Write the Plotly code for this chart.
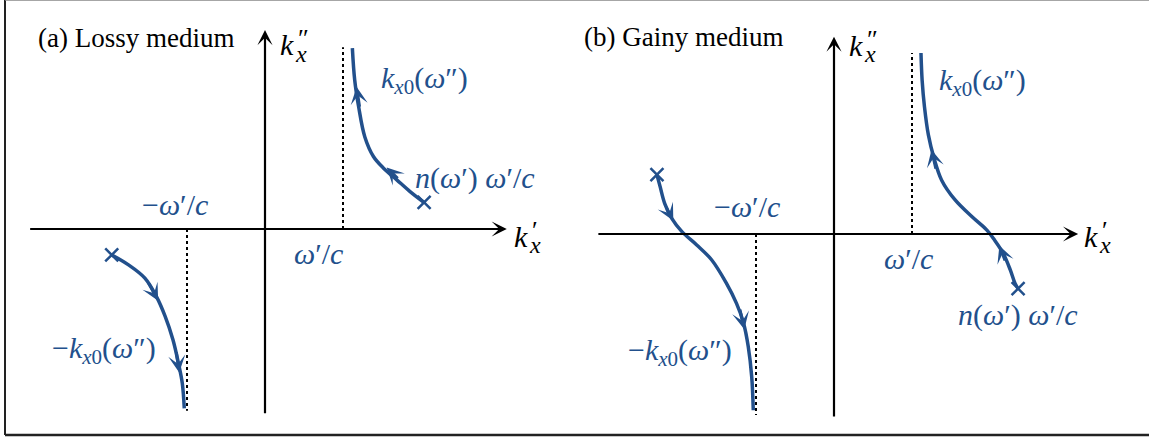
import plotly.graph_objects as go

# ---------------- data (units of omega'/c) ----------------
lossy_up_x = [2.04, 1.86, 1.69, 1.52, 1.39, 1.28, 1.20, 1.15, 1.12]
lossy_up_y = [0.34, 0.48, 0.63, 0.78, 0.93, 1.18, 1.57, 1.91, 2.32]
lossy_dn_x = [-1.965, -1.75, -1.54, -1.39, -1.28, -1.18, -1.11, -1.06, -1.035]
lossy_dn_y = [-0.333, -0.46, -0.63, -0.87, -1.12, -1.42, -1.72, -1.98, -2.30]

gainy_up_x = [2.36, 2.32, 2.26, 2.17, 2.06, 1.96, 1.77, 1.55, 1.38, 1.28, 1.21, 1.16, 1.13, 1.115]
gainy_up_y = [-0.70, -0.63, -0.46, -0.25, -0.08, 0.05, 0.22, 0.44, 0.69, 0.98, 1.27, 1.63, 1.97, 2.32]
gainy_dn_x = [-2.27, -2.23, -2.17, -2.08, -1.95, -1.76, -1.57, -1.38, -1.25, -1.16, -1.10, -1.055, -1.035]
gainy_dn_y = [0.76, 0.61, 0.39, 0.20, 0.03, -0.14, -0.33, -0.63, -0.89, -1.14, -1.44, -1.83, -2.26]

# flow arrows: head x, head y, tail x, tail y
lossy_arrows = [(1.175, 1.82, 1.215, 1.55), (1.56, 0.79, 1.72, 0.63),
                (-1.37, -0.92, -1.50, -0.68), (-1.10, -1.84, -1.14, -1.56)]
gainy_arrows = [(1.25, 1.08, 1.31, 0.82), (2.12, -0.15, 2.20, -0.36),
                (-2.06, 0.17, -2.16, 0.36), (-1.15, -1.22, -1.21, -0.95)]

# vertical asymptotes at +-omega'/c
asym_x = [1.0, -1.0]
lossy_asym_y = [2.33, -2.33]
gainy_asym_y = [2.32, -2.32]

# axis extents
lossy_axis = dict(xmin=-3.03, xmax=3.10, ymin=-2.38, ymax=2.55)
gainy_axis = dict(xmin=-3.04, xmax=3.13, ymin=-2.36, ymax=2.53)

titles = ["(a) Lossy medium", "(b) Gainy medium"]

BLUE = "#22508c"
MATH = "Liberation Serif"
SERIF = "Liberation Serif"

fig = go.Figure()
ann = []
shapes = []

panels = [
    dict(xa="x", ya="y", up=(lossy_up_x, lossy_up_y), dn=(lossy_dn_x, lossy_dn_y),
         arrows=lossy_arrows, asym_y=lossy_asym_y, ax=lossy_axis, title=titles[0],
         title_pos=(-2.93, 2.45),
         lab=dict(mw=(-1.15, 0.31), pw=(0.68, -0.31), k0=(2.05, 1.91), n=(2.69, 0.65),
                  mk0=(-2.07, -1.55), kpp=(0.17, 2.36), kp=(3.17, -0.09))),
    dict(xa="x2", ya="y2", up=(gainy_up_x, gainy_up_y), dn=(gainy_dn_x, gainy_dn_y),
         arrows=gainy_arrows, asym_y=gainy_asym_y, ax=gainy_axis, title=titles[1],
         title_pos=(-3.23, 2.52),
         lab=dict(mw=(-1.12, 0.35), pw=(0.96, -0.31), k0=(1.90, 1.95), n=(2.36, -1.04),
                  mk0=(-1.97, -1.51), kpp=(0.17, 2.42), kp=(3.18, -0.03))),
]

for p in panels:
    xa, ya = p["xa"], p["ya"]
    xr = "x" if xa == "x" else "x2"
    yr = "y" if ya == "y" else "y2"
    a = p["ax"]
    # axes with arrows
    ann.append(dict(x=a["xmax"], y=0, ax=a["xmin"], ay=0, xref=xr, yref=yr, axref=xr, ayref=yr,
                    showarrow=True, arrowhead=3, arrowsize=1.15, arrowwidth=2.2,
                    arrowcolor="black", text=""))
    ann.append(dict(x=0, y=a["ymax"], ax=0, ay=a["ymin"], xref=xr, yref=yr, axref=xr, ayref=yr,
                    showarrow=True, arrowhead=3, arrowsize=1.15, arrowwidth=2.2,
                    arrowcolor="black", text=""))
    # asymptotes
    for xv, yv in zip(asym_x, p["asym_y"]):
        fig.add_trace(go.Scatter(x=[xv, xv], y=[0, yv], mode="lines", xaxis=xa, yaxis=ya,
                                 line=dict(color="black", width=2, dash="dot"),
                                 hoverinfo="skip", showlegend=False))
    # curves
    for cx, cy in (p["up"], p["dn"]):
        fig.add_trace(go.Scatter(x=cx, y=cy, mode="lines", xaxis=xa, yaxis=ya,
                                 line=dict(color=BLUE, width=3.5, shape="spline", smoothing=1.0),
                                 hoverinfo="skip", showlegend=False))
        fig.add_trace(go.Scatter(x=[cx[0]], y=[cy[0]], mode="markers", xaxis=xa, yaxis=ya,
                                 marker=dict(symbol="x-thin", size=13,
                                             line=dict(color=BLUE, width=2.5)),
                                 hoverinfo="skip", showlegend=False))
    # flow arrows
    for hx, hy, tx, ty in p["arrows"]:
        ann.append(dict(x=hx, y=hy, ax=tx, ay=ty, xref=xr, yref=yr, axref=xr, ayref=yr,
                        showarrow=True, arrowhead=3, arrowsize=0.95, arrowwidth=3,
                        arrowcolor=BLUE, text=""))
    # title
    tx, ty = p["title_pos"]
    ann.append(dict(x=tx, y=ty, xref=xr, yref=yr, text=p["title"], showarrow=False,
                    xanchor="left", yanchor="middle",
                    font=dict(family=SERIF, size=27, color="black")))
    L = p["lab"]

    def mtxt(pos, text, size=30, color=BLUE, xanchor="center"):
        ann.append(dict(x=pos[0], y=pos[1], xref=xr, yref=yr, text=text, showarrow=False,
                        xanchor=xanchor, yanchor="middle",
                        font=dict(family=MATH, size=size, color=color)))

    mtxt(L["mw"], "\u2212<i>\u03c9</i>\u2032/<i>c</i>")
    mtxt(L["pw"], "<i>\u03c9</i>\u2032/<i>c</i>")
    mtxt(L["k0"], "<i>k</i><sub><i>x</i>0</sub>(<i>\u03c9</i>\u2033)")
    mtxt(L["n"], "<i>n</i>(<i>\u03c9</i>\u2032) <i>\u03c9</i>\u2032/<i>c</i>")
    mtxt(L["mk0"], "\u2212<i>k</i><sub><i>x</i>0</sub>(<i>\u03c9</i>\u2033)")
    # axis labels k''_x and k'_x (prime stacked above subscript)
    for key, prime in (("kpp", "\u2033"), ("kp", "\u2032")):
        px, py = L[key]
        ann.append(dict(x=px, y=py, xref=xr, yref=yr, text="<i>k</i>", showarrow=False,
                        xanchor="left", yanchor="middle",
                        font=dict(family=MATH, size=30, color="black")))
        ann.append(dict(x=px, y=py, xref=xr, yref=yr, text="<i>x</i>", showarrow=False,
                        xanchor="left", yanchor="middle", xshift=15, yshift=-9,
                        font=dict(family=MATH, size=24, color="black")))
        ann.append(dict(x=px, y=py, xref=xr, yref=yr, text=prime, showarrow=False,
                        xanchor="left", yanchor="middle", xshift=18, yshift=6,
                        font=dict(family=MATH, size=26, color="black")))

# frame lines (paper coords)
shapes.append(dict(type="line", xref="paper", yref="paper", x0=5 / 1149, x1=5 / 1149,
                   y0=5 / 440, y1=1, line=dict(color="#222", width=2)))
shapes.append(dict(type="line", xref="paper", yref="paper", x0=5 / 1149, x1=1,
                   y0=5 / 440, y1=5 / 440, line=dict(color="#222", width=2.5)))
shapes.append(dict(type="line", xref="paper", yref="paper", x0=5 / 1149, x1=1,
                   y0=1, y1=1, line=dict(color="#888", width=1.5)))

S = 78.0
fig.update_layout(
    width=1149, height=440, margin=dict(l=0, r=0, t=0, b=0),
    paper_bgcolor="white", plot_bgcolor="white", showlegend=False,
    xaxis=dict(domain=[0, 0.5], range=[-265 / S, (574.5 - 265) / S], visible=False, fixedrange=True),
    yaxis=dict(domain=[0, 1], range=[-(440 - 229) / S, 229 / S], visible=False, fixedrange=True),
    xaxis2=dict(domain=[0.5, 1], range=[(574.5 - 834) / S, (1149 - 834) / S], visible=False,
                fixedrange=True, anchor="y2"),
    yaxis2=dict(domain=[0, 1], range=[-(440 - 234) / S, 234 / S], visible=False,
                fixedrange=True, anchor="x2"),
    annotations=ann, shapes=shapes,
)

fig.write_html("out.html", config={"displayModeBar": False},
               post_script="document.body.style.margin='0px';document.body.style.overflow='hidden';")
